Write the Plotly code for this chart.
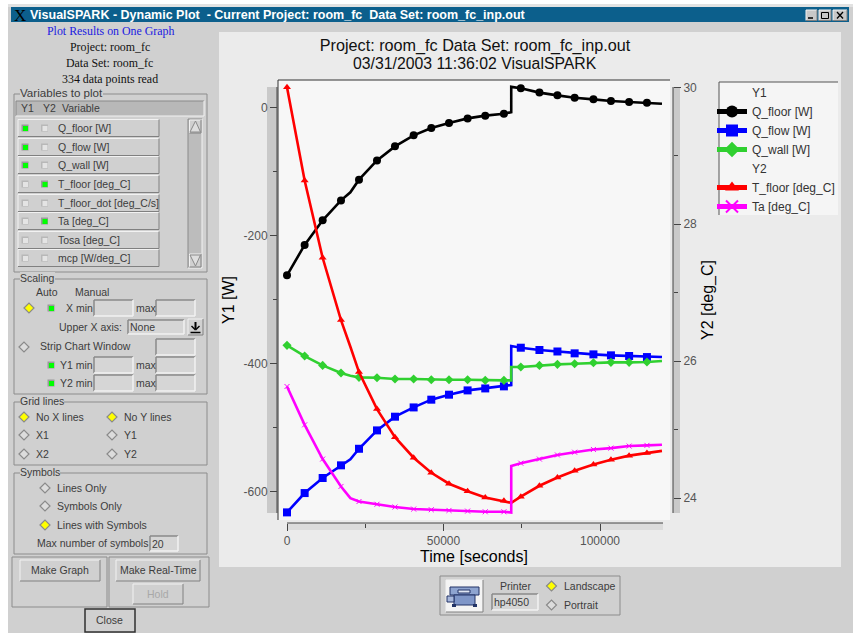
import plotly.graph_objects as go

time_s = [0, 5640, 11390, 17250, 20250, 23000, 28750, 34500, 40460, 46100, 51760, 57700, 63340,
          69300, 71640, 71640, 74700, 80650, 86400, 91900, 97900, 103500, 109300, 115000, 119800]
q_floor = [-262.5, -215, -176.6, -145.4, -132.8, -113, -83, -61, -43.8, -32.3, -24.5, -17.3, -13,
           -10, -7.5, 32, 29.7, 23, 18.7, 15, 12.5, 9.8, 8.3, 7.2, 5.6]
q_flow = [-632.9, -602.7, -579.2, -559.4, -550, -533.5, -504.8, -483.4, -468.9, -456.8, -449, -442.3, -439.2,
          -436, -433.9, -373, -375.6, -379.2, -381.5, -384.4, -386, -387.5, -388.5, -390.2, -390.2]
q_wall = [-371.9, -388.6, -403.2, -415.2, -419.4, -421.9, -422.5, -424.5, -424.5, -425.6, -425.6, -425.6, -426.6,
          -426.6, -426.6, -405.8, -405.8, -403.2, -401.6, -400.6, -399, -398.5, -398.5, -398, -396.4]
t_floor = [30.0, 28.64, 27.51, 26.6, 26.21, 25.84, 25.30, 24.89, 24.59, 24.37, 24.21, 24.10, 24.01,
           23.96, 23.93, 23.93, 24.02, 24.18, 24.30, 24.40, 24.49, 24.56, 24.62, 24.66, 24.69]
ta = [25.63, 25.07, 24.57, 24.17, 24.0, 23.95, 23.91, 23.87, 23.84, 23.83, 23.82, 23.81, 23.80,
      23.80, 23.79, 24.47, 24.51, 24.57, 24.63, 24.67, 24.71, 24.73, 24.76, 24.77, 24.78]
no_symbol_at = [4, 14, 15, 24]
y1_ticks = [0, -200, -400, -600]
y1_tick_labels = ["0", "-200", "-400", "-600"]

W, H = 853, 633
SANS, SERIF = "Liberation Sans", "Liberation Serif"
BG, INK = "#d0d0d0", "#3c3c3c"
shapes, notes = [], []
px = lambda x: x / W
py = lambda y: 1 - y / H


def rect(x0, y0, x1, y1, fill=None, line=None, lw=1):
    shapes.append(dict(type="rect", xref="paper", yref="paper", layer="below",
                       x0=px(x0), y0=py(y0), x1=px(x1), y1=py(y1),
                       fillcolor=fill or "rgba(0,0,0,0)",
                       line=dict(color=line or "rgba(0,0,0,0)", width=lw if line else 0)))


def seg(x0, y0, x1, y1, color, lw=1):
    shapes.append(dict(type="line", xref="paper", yref="paper", layer="below",
                       x0=px(x0), y0=py(y0), x1=px(x1), y1=py(y1), line=dict(color=color, width=lw)))


def txt(x, y, s, size=10.5, color=INK, family=SANS, anchor="left", bg=None, bold=False):
    notes.append(dict(xref="paper", yref="paper", x=px(x), y=py(y), text=f"<b>{s}</b>" if bold else s,
                      showarrow=False, xanchor=anchor, yanchor="middle", borderpad=0, borderwidth=0,
                      bgcolor=bg, font=dict(size=size, color=color, family=family)))


def bevel(x0, y0, x1, y1, fill=BG, raised=True, lw=1):
    lt, dk = ("#f2f2f2", "#808080") if raised else ("#8a8a8a", "#f2f2f2")
    rect(x0, y0, x1, y1, fill=fill)
    seg(x0, y0, x1, y0, lt, lw)
    seg(x0, y0, x0, y1, lt, lw)
    seg(x0, y1, x1, y1, dk, lw)
    seg(x1, y0, x1, y1, dk, lw)


def group(x0, y0, x1, y1, label=None, size=10.5):
    rect(x0, y0, x1, y1, line="#8c8c8c")
    if label:
        txt(x0 + 6, y0 - 1, label, bg=BG, size=size)


def field(x0, y0, x1, y1, s=None):
    bevel(x0, y0, x1, y1, fill="#d6d6d6", raised=False, lw=1.5)
    if s:
        txt(x0 + 2, (y0 + y1) / 2, s)


def diamond(x, y, on=False, r=5):
    path = "M{} {} L{} {} L{} {} L{} {} Z".format(px(x - r), py(y), px(x), py(y - r), px(x + r), py(y), px(x), py(y + r))
    shapes.append(dict(type="path", xref="paper", yref="paper", layer="below", path=path,
                       fillcolor="#ffff00" if on else "#dcdcdc", line=dict(color="#8a8a8a", width=1.2)))


def check(x, y, on=False):
    rect(x - 3.5, y - 3.5, x + 3.5, y + 3.5, fill="#9a9a9a" if on else "#b8b8b8")
    rect(x - 2, y - 2, x + 3, y + 3, fill="#00ff00" if on else "#e4e4e4")


# window
rect(8, 4, 853, 633, fill=BG)
rect(8, 4, 853, 7, fill="#e2e2e2")
rect(11, 7, 849, 22, fill="#0c5f8c")
txt(14, 15, "X", size=17, color="#000000", family=SERIF)
txt(30, 15, "VisualSPARK - Dynamic Plot  - Current Project: room_fc  Data Set: room_fc_inp.out",
    size=12.5, color="#ffffff", bold=True)
for x0, x1, mark in [(806, 817, "min"), (819, 831, "max"), (833, 847, "close")]:
    bevel(x0, 10, x1, 20.5, fill="#c8c8c8")
    if mark == "min":
        seg(x0 + 2, 18, x0 + 7, 18, "#000000", 1.5)
    elif mark == "max":
        rect(x0 + 2.5, 12.5, x1 - 2.5, 18.5, line="#000000")
    else:
        seg(x0 + 4, 12, x1 - 4, 18.5, "#000000", 1.3)
        seg(x0 + 4, 18.5, x1 - 4, 12, "#000000", 1.3)

# header text
txt(110.5, 31, "Plot Results on One Graph", size=11.9, color="#2020e0", family=SERIF, anchor="center")
txt(110, 47, "Project: room_fc", size=11.9, color="#111111", family=SERIF, anchor="center")
txt(110, 63, "Data Set: room_fc", size=11.9, color="#111111", family=SERIF, anchor="center")
txt(110, 79, "334 data points read", size=11.9, color="#111111", family=SERIF, anchor="center")

# variables to plot
group(14, 94, 207, 272, "Variables to plot", size=11.6)
bevel(16, 101, 204, 116, fill="#b8b8b8", raised=False)
txt(21, 108, "Y1")
txt(43, 108, "Y2")
txt(62, 108, "Variable")
var_rows = ["Q_floor [W]", "Q_flow [W]", "Q_wall [W]", "T_floor [deg_C]", "T_floor_dot [deg_C/s]",
            "Ta [deg_C]", "Tosa [deg_C]", "mcp [W/deg_C]"]
row_y = [128, 147, 165, 184, 203, 221, 240, 258]
y1_on = [True, True, True, False, False, False, False, False]
y2_on = [False, False, False, True, False, True, False, False]
for label, y, a, b in zip(var_rows, row_y, y1_on, y2_on):
    bevel(18, y - 8.5, 159, y + 8.5)
    check(25, y, a)
    check(44.5, y, b)
    txt(58, y, label)
bevel(188, 119, 202, 268, fill="#bcbcbc", raised=False)
bevel(189.5, 120, 201, 133)
bevel(189.5, 254, 201, 267)
for path in ["M{} {} L{} {} L{} {} Z".format(px(190), py(132), px(195.5), py(121), px(200.5), py(132)),
             "M{} {} L{} {} L{} {} Z".format(px(190), py(255), px(195.5), py(266), px(200.5), py(255))]:
    shapes.append(dict(type="path", xref="paper", yref="paper", layer="below", path=path,
                       fillcolor="#dedede", line=dict(color="#8a8a8a", width=1)))

# scaling
group(14, 279, 207, 394, "Scaling")
txt(36, 292, "Auto")
txt(75, 292, "Manual")
diamond(29, 308, True)
check(51, 308, True)
txt(66, 308, "X min")
field(94, 300, 133, 316)
txt(136, 308, "max")
field(156, 300, 195, 316)
txt(59, 327, "Upper X axis:")
field(128, 320, 184, 334, "None")
bevel(188, 319, 203, 335)
seg(195.5, 322, 195.5, 329, "#000000", 2)
seg(191.5, 326, 195.5, 330, "#000000", 1.5)
seg(199.5, 326, 195.5, 330, "#000000", 1.5)
seg(190.5, 332.5, 200.5, 332.5, "#000000", 1.5)
diamond(24, 347)
txt(40, 346, "Strip Chart Window")
field(156, 339, 195, 355)
for y, name in [(365, "Y1 min"), (383, "Y2 min")]:
    check(51, y, True)
    txt(60, y, name)
    field(94, y - 8, 133, y + 8)
    txt(136, y, "max")
    field(156, y - 8, 195, y + 8)

# grid lines
group(14, 402, 207, 465, "Grid lines")
for x, labels in [(24, ["No X lines", "X1", "X2"]), (112, ["No Y lines", "Y1", "Y2"])]:
    for y, s, on in zip([417, 435, 454], labels, [True, False, False]):
        diamond(x, y, on)
        txt(x + 12, y, s)

# symbols
group(14, 473, 207, 554, "Symbols")
for y, s, on in [(488, "Lines Only", False), (506, "Symbols Only", False), (525, "Lines with Symbols", True)]:
    diamond(45, y, on)
    txt(57, y, s)
txt(37, 543, "Max number of symbols")
field(150, 536, 178, 551, "20")

# buttons
rect(12, 557, 107, 607, line="#8c8c8c")
rect(109, 557, 209, 607, line="#8c8c8c")
bevel(20, 560, 100, 581)
txt(60, 570, "Make Graph", anchor="center")
bevel(116, 560, 200, 581)
txt(158, 570, "Make Real-Time", anchor="center")
bevel(133, 584, 183, 604)
txt(158, 594, "Hold", color="#a8a8a8", anchor="center")
rect(85, 609, 135, 632, fill=BG, line="#303030", lw=1.5)
txt(110, 620, "Close", anchor="center")

# plot panel and axis decoration
rect(219, 32, 841, 567, fill="#ebebeb")
rect(267, 87, 277, 513, fill="#c9c9c9")
rect(673, 87, 680, 513, fill="#c9c9c9")
rect(287, 523, 663, 530, fill="#dcdcdc")
rect(278, 80, 670, 520, fill="#f7f7f7")
seg(278, 80, 670, 80, "#333333", 1)
seg(278, 80, 278, 520, "#333333", 1)
seg(277, 87, 277, 513, "#444444", 1)
seg(673, 87, 673, 513, "#444444", 1)
seg(287, 523, 663, 523, "#444444", 1)
rect(719, 82, 838, 215, fill="#f5f5f5")
seg(719, 82, 838, 82, "#555555", 1)
seg(719, 82, 719, 215, "#555555", 1)

# printer panel
rect(440, 576, 620, 615, line="#8c8c8c")
bevel(446, 580, 483, 612, fill="#f4f4f4")
rect(450, 587, 479, 595, fill="#8ea4d0", line="#223366")
rect(454, 595, 475, 605, fill="#7f96c8", line="#223366")
rect(447, 596, 454, 602, fill="#a8b8dc", line="#223366")
rect(458, 590, 470, 593, fill="#dfe6f4", line="#223366")
rect(452, 604, 456, 607, fill="#223366")
rect(473, 604, 477, 607, fill="#223366")
txt(515, 586, "Printer", anchor="center")
field(492, 594, 538, 610, "hp4050")
diamond(551.5, 586, True)
txt(564, 586, "Landscape")
diamond(551.5, 605)
txt(564, 605, "Portrait")

# second title line
txt(475, 63.5, "03/31/2003 11:36:02 VisualSPARK", size=15.8, color="#111111", anchor="center")

# chart
sizes = lambda n: [0 if i in no_symbol_at else n for i in range(len(time_s))]
fig = go.Figure()
fig.add_trace(go.Scatter(x=[None], y=[None], name="Y1", mode="lines", line=dict(color="rgba(0,0,0,0)")))
series = [("Q_floor [W]", q_floor, "#000000", "circle", 8, "y", 2.6),
          ("Q_flow [W]", q_flow, "#0000ff", "square", 8, "y", 2.6),
          ("Q_wall [W]", q_wall, "#30d030", "diamond", 7, "y", 2.6),
          ("T_floor [deg_C]", t_floor, "#ff0000", "triangle-up", 7, "y2", 2.6),
          ("Ta [deg_C]", ta, "#ff00ff", "x-thin", 5, "y2", 2.6)]
for name, vals, color, sym, ms, ax, lw in series:
    if name.startswith("T_floor"):
        fig.add_trace(go.Scatter(x=[None], y=[None], name="Y2", mode="lines", yaxis="y2",
                                 line=dict(color="rgba(0,0,0,0)")))
    fig.add_trace(go.Scatter(x=time_s, y=vals, name=name, yaxis=ax, mode="lines+markers",
                             line=dict(color=color, width=lw),
                             marker=dict(symbol=sym, size=sizes(ms), color=color, opacity=1,
                                         line=dict(color=color, width=1 if sym == "x-thin" else 0))))

tickfont = dict(size=12, color="#555555", family=SANS)
titlefont = dict(size=16, color="#000000", family=SANS)
axis_common = dict(showgrid=False, zeroline=False, showline=False, ticks="outside", ticklen=7, tickwidth=1,
                   tickcolor="#444444", tickfont=tickfont, anchor="free")
minor = lambda d: dict(dtick=d, ticks="outside", ticklen=4, tickwidth=1, tickcolor="#444444", showgrid=False)

fig.update_layout(
    width=W, height=H, autosize=False, margin=dict(l=0, r=0, t=0, b=0),
    paper_bgcolor="#ffffff", plot_bgcolor="rgba(0,0,0,0)",
    font=dict(family=SANS),
    title=dict(text="Project: room_fc Data Set: room_fc_inp.out",
               x=475 / W, xanchor="center", y=py(45.5), yanchor="middle", font=dict(size=16.2, color="#111111", family=SANS)),
    xaxis=dict(domain=[px(278), px(670)], range=[-2875, 122364], dtick=50000, tick0=0, tickformat="d", minor=minor(25000),
               position=py(523), title=dict(text="Time [seconds]", font=titlefont, standoff=2), **axis_common),
    yaxis=dict(domain=[py(520), py(80)], range=[-644.8, 42.7], tickmode="array", tickvals=y1_ticks, ticktext=y1_tick_labels,
               minor=minor(100), position=px(277), title=dict(text="Y1 [W]", font=titlefont, standoff=3), **axis_common),
    yaxis2=dict(domain=[py(520), py(80)], range=[23.68, 30.107], dtick=2, minor=minor(1), overlaying="y", side="right",
                position=px(673), title=dict(text="Y2 [deg_C]", font=titlefont, standoff=5), **axis_common),
    legend=dict(x=px(712), y=py(78), xanchor="left", yanchor="top", bgcolor="rgba(0,0,0,0)",
                font=dict(size=12, color="#333333", family=SANS), traceorder="normal", itemsizing="constant",
                itemclick=False, itemdoubleclick=False),
    shapes=shapes, annotations=notes, showlegend=True,
)
fig.write_html("out.html", config=dict(displayModeBar=False),
               post_script="document.body.style.margin='0';document.body.style.overflow='hidden';")
